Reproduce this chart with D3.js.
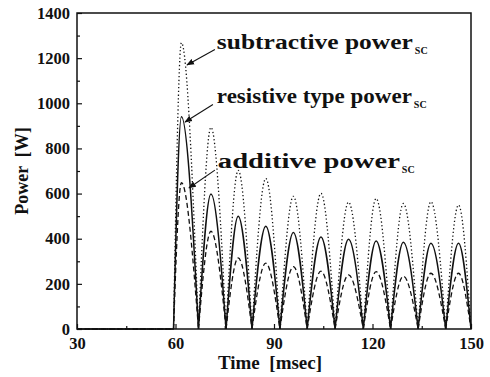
<!DOCTYPE html>
<html>
<head>
<meta charset="utf-8">
<script src="https://cdn.jsdelivr.net/npm/d3@7"></script>
<style>
  body { margin: 0; background: #fff; }
  text { font-family: "Liberation Serif", serif; font-weight: bold; fill: #111; }
</style>
</head>
<body>
<svg id="chart" width="490" height="377"></svg>
<script>
// zero crossings and lobe peaks (msec)
var zeroTimes = [59.4, 67.0, 75.4, 83.3, 91.8, 100.1, 108.6, 117.2, 125.5, 133.9, 142.3, 150.0];
var peakTimes = [61.8, 70.8, 79.1, 87.5, 95.9, 104.3, 112.7, 121.1, 129.4, 137.8, 146.2];

// peak power of each lobe (W)
var resistivePeaks   = [940, 598, 500, 455, 428, 408, 398, 390, 384, 380, 380];
var subtractivePeaks = [1268, 893, 703, 667, 588, 601, 562, 578, 556, 564, 549];
var additivePeaks    = [648, 433, 315, 292, 276, 256, 240, 254, 234, 247, 247];

var xTicks = [30, 60, 90, 120, 150];
var yTicks = [0, 200, 400, 600, 800, 1000, 1200, 1400];

var labels = [
  { name: 'subtractive power', len: 196, t: 72.6, p: 1240, tipT: 63.5, tipP: 1170, fromT: 72.0, fromP: 1238 },
  { name: 'resistive type power', len: 195, t: 72.6, p: 1000, tipT: 62.9, tipP: 917, fromT: 71.4, fromP: 995 },
  { name: 'additive power', len: 182, t: 72.9, p: 712, tipT: 64.1, tipP: 625, fromT: 72.0, fromP: 704 }
];

var margin = { top: 13, right: 19, bottom: 48, left: 77 };
var width = 490 - margin.left - margin.right;
var height = 377 - margin.top - margin.bottom;

var svg = d3.select('#chart');
var g = svg.append('g').attr('transform', 'translate(' + margin.left + ',' + margin.top + ')');

var x = d3.scaleLinear().domain([30, 150]).range([0, width]);
var y = d3.scaleLinear().domain([0, 1400]).range([height, 0]);

var line = d3.line()
  .x(function(d) { return x(d[0]); })
  .y(function(d) { return y(d[1]); })
  .curve(d3.curveMonotoneX);

var flat = d3.line()
  .x(function(d) { return x(d[0]); })
  .y(function(d) { return y(d[1]); });

// each half cycle is its own lobe: zero -> peak -> zero
function seriesPath(peaks) {
  var d = flat([[30, 0], [zeroTimes[0], 0]]);
  for (let i = 0; i < peaks.length; i++) {
    d += line([[zeroTimes[i], 0], [peakTimes[i], peaks[i]], [zeroTimes[i + 1], 0]]);
  }
  return d;
}

var series = [
  { data: subtractivePeaks, dash: '1.3,2.4', w: 1.3 },
  { data: additivePeaks, dash: '5,3', w: 1.3 },
  { data: resistivePeaks, dash: null, w: 1.5 }
];

series.forEach(function(s) {
  g.append('path')
    .attr('d', seriesPath(s.data))
    .attr('fill', 'none')
    .attr('stroke', '#111')
    .attr('stroke-width', s.w)
    .attr('stroke-dasharray', s.dash);
});

// axes, ticks pointing inward
var xAxis = d3.axisBottom(x).tickValues(xTicks).tickSize(-5).tickPadding(8).tickFormat(d3.format('d'));
var yAxis = d3.axisLeft(y).tickValues(yTicks).tickSize(-5).tickPadding(7).tickFormat(d3.format('d'));

var gx = g.append('g').attr('transform', 'translate(0,' + height + ')').call(xAxis);
var gy = g.append('g').call(yAxis);

g.append('g').attr('transform', 'translate(0,' + height + ')')
  .call(d3.axisBottom(x).tickValues([45, 75, 105, 135]).tickSize(-3).tickFormat(''));
g.append('g')
  .call(d3.axisLeft(y).tickValues([100, 300, 500, 700, 900, 1100, 1300]).tickSize(-3).tickFormat(''));

g.selectAll('.domain').remove();
g.selectAll('.tick line').attr('stroke', '#111').attr('stroke-width', 1.2);
g.selectAll('.tick text')
  .style('font-family', '"Liberation Serif", serif')
  .style('font-weight', 'bold')
  .style('font-size', '16.5px')
  .attr('fill', '#111');

g.append('rect')
  .attr('width', width)
  .attr('height', height)
  .attr('fill', 'none')
  .attr('stroke', '#111')
  .attr('stroke-width', 1.5);

// axis titles
svg.append('text')
  .attr('x', 270)
  .attr('y', 369)
  .attr('text-anchor', 'middle')
  .style('font-size', '19px')
  .style('white-space', 'pre')
  .text('Time  [msec]');

svg.append('text')
  .attr('transform', 'translate(28,' + (margin.top + height / 2) + ') rotate(-90)')
  .attr('text-anchor', 'middle')
  .style('font-size', '18px')
  .style('white-space', 'pre')
  .text('Power  [W]');

// annotations with arrows
svg.append('defs').append('marker')
  .attr('id', 'head')
  .attr('viewBox', '0 0 10 10')
  .attr('refX', 9).attr('refY', 5)
  .attr('markerWidth', 7).attr('markerHeight', 7)
  .attr('orient', 'auto')
  .append('path')
  .attr('d', 'M0,1 L10,5 L0,9 Z')
  .attr('fill', '#111');

labels.forEach(function(l) {
  g.append('line')
    .attr('x1', x(l.fromT)).attr('y1', y(l.fromP))
    .attr('x2', x(l.tipT)).attr('y2', y(l.tipP))
    .attr('stroke', '#111')
    .attr('stroke-width', 1.1)
    .attr('marker-end', 'url(#head)');

  var t = g.append('text')
    .attr('x', x(l.t))
    .attr('y', y(l.p))
    .style('font-size', '20px');
  t.append('tspan')
    .attr('textLength', l.len)
    .attr('lengthAdjust', 'spacingAndGlyphs')
    .text(l.name);
  t.append('tspan').attr('dx', 2).attr('dy', 5).style('font-size', '10px').text('SC');
});
</script>
</body>
</html>
